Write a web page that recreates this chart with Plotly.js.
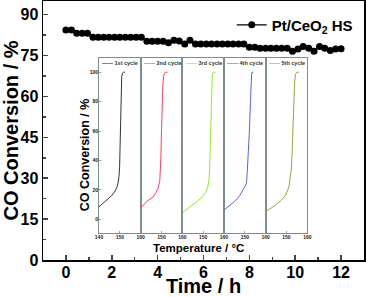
<!DOCTYPE html>
<html>
<head>
<meta charset="utf-8">
<script src="https://cdn.plot.ly/plotly-3.0.1.min.js"></script>
<style>html,body{margin:0;padding:0;background:#fff;}</style>
</head>
<body>
<div id="chart" style="width:366px;height:297px;"></div>
<script>
// ---- Main series: CO conversion vs time ----
const times = [0, 0.24, 0.47, 0.71, 0.94, 1.18, 1.41, 1.65, 1.88, 2.12, 2.35, 2.59, 2.82, 3.06, 3.29, 3.53, 3.76, 4.00, 4.24, 4.47, 4.71, 4.94, 5.18, 5.41, 5.65, 5.88, 6.12, 6.35, 6.59, 6.82, 7.06, 7.29, 7.53, 7.76, 8.00, 8.24, 8.47, 8.71, 8.94, 9.18, 9.41, 9.65, 9.88, 10.12, 10.35, 10.59, 10.82, 11.06, 11.29, 11.53, 11.76, 12.00];
const conversion = [84.4, 84.4, 83.2, 83.2, 83.2, 81.7, 81.7, 81.7, 81.7, 81.7, 81.7, 81.7, 81.7, 81.7, 81.7, 80.2, 80.2, 80.2, 80.2, 79.7, 80.6, 80.3, 79.2, 80.6, 79.2, 79.2, 79.2, 79.2, 79.2, 79.2, 79.2, 79.2, 79.2, 79.2, 78.0, 78.0, 77.7, 77.7, 77.7, 77.7, 77.7, 77.7, 76.6, 77.4, 78.3, 77.7, 76.6, 78.3, 77.7, 76.8, 77.4, 77.5];
const seriesName = 'Pt/CeO<sub>2</sub> HS';

// ---- Inset: light-off curves for five cycles ----
const cycleNames = ['1st cycle', '2nd cycle', '3rd cycle', '4th cycle', '5th cycle'];
const temp1 = [140, 142, 144.3, 146, 147.5, 148.5, 149.1, 149.6, 149.9, 150.1, 150.3, 150.6, 150.9, 151.3, 151.7, 152.5];
const conv1 = [8.5, 11, 13.6, 16, 18.7, 21.5, 24.4, 29, 36, 50, 68, 88, 97, 99.5, 100, 100];
const temp2 = [140, 141, 142.8, 144.5, 146, 147.5, 148.4, 149.2, 149.5, 149.7, 150.0, 150.3, 150.7, 151.1, 151.8, 152.9];
const conv2 = [7.5, 9, 12, 13.8, 15.3, 18.5, 21, 26.6, 32, 42, 60, 78, 92, 98, 100, 100];
const temp3 = [140, 142, 144, 146.5, 149, 151.3, 152.3, 152.8, 153.1, 153.4, 153.7, 154.1, 154.4, 154.8, 156];
const conv3 = [4.5, 6.5, 8.5, 11.5, 14.5, 18.5, 22.5, 27, 35, 55, 75, 92, 98.5, 100, 100];
const temp4 = [140, 142, 145, 147.5, 149.8, 150.8, 151.2, 151.7, 152.2, 152.7, 153.0, 153.3, 153.5, 154.1];
const conv4 = [6.3, 8.5, 12, 16, 21.5, 24.4, 33, 45, 60, 80, 94, 99.5, 100, 100];
const temp5 = [140, 142, 144.8, 147.5, 149.6, 151.2, 151.9, 152.3, 152.7, 153.1, 153.5, 153.9, 154.3, 154.9, 156];
const conv5 = [5.2, 7, 9.7, 13, 16.5, 22, 28, 34, 45, 62, 80, 93, 98.5, 100, 100];
const insetTicksFirst = [140, 150, 160];
const insetTicksOther = [150, 160];
const insetYTicks = [0, 20, 40, 60, 80, 100];
const mainXTicks = [0, 2, 4, 6, 8, 10, 12];
const mainYTicks = [0, 15, 30, 45, 60, 75, 90];

const temps = [temp1, temp2, temp3, temp4, temp5];
const convs = [conv1, conv2, conv3, conv4, conv5];
const cycleColors = ['#333333', '#ff3f5f', '#88ee22', '#5866dd', '#a0a040'];

const FONT = 'Liberation Sans, Arial, Helvetica, sans-serif';
const frameCol = '#7f8c8d';

const traces = [{
  x: times, y: conversion, name: seriesName,
  type: 'scatter', mode: 'lines+markers',
  line: {color: '#000', width: 1.2},
  marker: {color: '#000', size: 7},
  xaxis: 'x', yaxis: 'y'
}];

// panel boundaries in paper coords
const pL = 0.17445, pW = 0.12979;
const yDom = [0.1042, 0.780];

const layout = {
  width: 366, height: 297,
  margin: {l: 43, r: 2, t: 1, b: 37, pad: 0},
  paper_bgcolor: '#fff', plot_bgcolor: 'rgba(0,0,0,0)',
  font: {family: FONT, color: '#000'},
  showlegend: true,
  legend: {x: 0.588, y: 0.907, xanchor: 'left', yanchor: 'middle',
           font: {size: 15, weight: 'bold', family: FONT}, bgcolor: 'rgba(0,0,0,0)', borderwidth: 0},
  xaxis: {domain: [0, 1], range: [-1, 13], anchor: 'y',
          tickvals: mainXTicks, ticks: 'inside', ticklen: 5, tickwidth: 1.5,
          minor: {dtick: 1, tick0: 0, ticks: 'inside', ticklen: 3, tickwidth: 1.5},
          showline: true, mirror: true, linewidth: 1.5, linecolor: '#000',
          showgrid: false, zeroline: false, ticklabelstandoff: -3,
          tickfont: {size: 16, weight: 'bold'},
          title: {text: 'Time / h', font: {size: 20, weight: 'bold'}, standoff: 10}},
  yaxis: {domain: [0, 1], range: [0, 95], anchor: 'x',
          tickvals: mainYTicks, ticks: 'inside', ticklen: 5, tickwidth: 1.5,
          minor: {dtick: 7.5, tick0: 0, ticks: 'inside', ticklen: 3, tickwidth: 1.5},
          showline: true, mirror: true, linewidth: 1.5, linecolor: '#000',
          showgrid: false, zeroline: false,
          tickfont: {size: 16, weight: 'bold'},
          title: {text: 'CO Conversion / %', font: {size: 20, weight: 'bold'}, standoff: 4}},
  annotations: [],
};

for (let i = 0; i < 5; i++) {
  const n = i + 2;
  const xa = 'xaxis' + n, ya = 'yaxis' + n;
  layout[xa] = {
    domain: [pL + i * pW, pL + (i + 1) * pW], range: [140, 160], anchor: 'y' + n,
    tickvals: i === 0 ? insetTicksFirst : insetTicksOther,
    ticks: 'inside', ticklen: 2, tickwidth: 0.8, tickcolor: frameCol,
    showline: true, mirror: true, linewidth: 1, linecolor: frameCol,
    showgrid: false, zeroline: false, ticklabelstandoff: -1,
    tickfont: {size: 5, weight: 'bold', color: '#222'}
  };
  layout[ya] = {
    domain: yDom, range: [-9.3, 109.7], anchor: 'x' + n,
    tickvals: insetYTicks, ticks: i === 0 ? 'inside' : '', ticklen: 2, tickwidth: 0.8, tickcolor: frameCol,
    showticklabels: i === 0, ticklabelstandoff: -1,
    showline: true, mirror: true, linewidth: 1, linecolor: frameCol,
    showgrid: false, zeroline: false,
    tickfont: {size: 5, weight: 'bold', color: '#222'}
  };
  traces.push({
    x: temps[i], y: convs[i], name: cycleNames[i],
    type: 'scatter', mode: 'lines', showlegend: false,
    line: {color: cycleColors[i], width: 1},
    xaxis: 'x' + n, yaxis: 'y' + n
  });
  layout.annotations.push({
    xref: 'paper', yref: 'paper', x: pL + i * pW + 0.004, y: 0.762,
    xanchor: 'left', yanchor: 'middle', showarrow: false,
    text: '<span style="color:' + cycleColors[i] + '">——</span> ' + cycleNames[i],
    font: {size: 5.5, weight: 'bold', color: '#333', family: FONT}
  });
}

layout.annotations.push({
  xref: 'paper', yref: 'paper', x: 0.131, y: 0.405, xanchor: 'center', yanchor: 'middle',
  textangle: -90, showarrow: false, text: 'CO Conversion / %',
  font: {size: 12.5, weight: 'bold', color: '#000', family: FONT}
});
layout.annotations.push({
  xref: 'paper', yref: 'paper', x: 0.483, y: 0.045, xanchor: 'center', yanchor: 'middle',
  showarrow: false, text: 'Temperature / °C',
  font: {size: 11.5, weight: 'bold', color: '#000', family: FONT}
});

Plotly.newPlot('chart', traces, layout, {staticPlot: true, displayModeBar: false});
</script>
</body>
</html>
